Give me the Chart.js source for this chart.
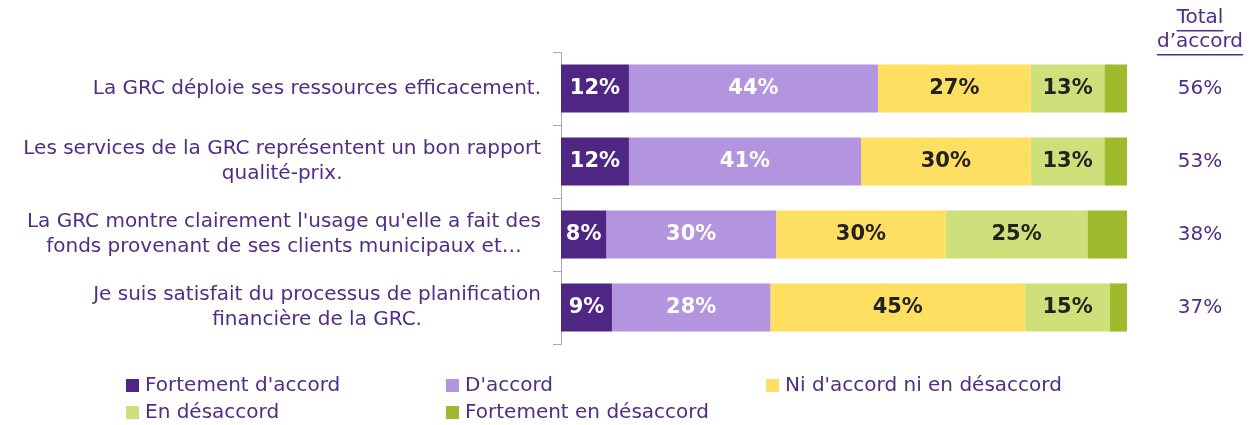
<!DOCTYPE html>
<html>
<head>
<meta charset="utf-8">
<script src="https://cdn.jsdelivr.net/npm/chart.js@4/dist/chart.umd.min.js"></script>
<style>
  html, body { margin: 0; padding: 0; background: #fff; }
  #wrap { width: 1254px; height: 425px; }
</style>
</head>
<body>
<div id="wrap"><canvas id="app-chart"></canvas></div>
<script>
// data
var categories = [
    ['La GRC déploie ses ressources efficacement.'],
    ['Les services de la GRC représentent un bon rapport', 'qualité-prix.'],
    ["La GRC montre clairement l'usage qu'elle a fait des", 'fonds provenant de ses clients municipaux et…'],
    ['Je suis satisfait du processus de planification', 'financière de la GRC.']
];
var seriesNames = ["Fortement d'accord", "D'accord", "Ni d'accord ni en désaccord", 'En désaccord', 'Fortement en désaccord'];
var fortementAccord = [12, 12, 8, 9];
var accord = [44, 41, 30, 28];
var neutre = [27, 30, 30, 45];
var desaccord = [13, 13, 25, 15];
var fortementDesaccord = [4, 4, 7, 3];
var totalAccord = ['56%', '53%', '38%', '37%'];
var totalTitle = ['Total', 'd\u2019accord'];

var colors = ['#4f2683', '#b394de', '#ffdf61', '#cde07a', '#9dbb2c'];
var labelColors = ['#ffffff', '#ffffff', '#222222', '#222222', null];
var purple = '#512d86';
var font = '"DejaVu Sans", Verdana, sans-serif';

//======================================================================================================================
// Custom drawing: category labels, value labels, totals, legend
//======================================================================================================================

var drawExtras = {
    id: 'drawExtras',
    afterDatasetsDraw: function(chart) {
        var ctx = chart.ctx;
        var yScale = chart.scales.y;
        ctx.save();

        // category labels, block right-aligned, lines centred
        ctx.font = '20px ' + font;
        ctx.fillStyle = purple;
        ctx.textBaseline = 'middle';
        ctx.textAlign = 'center';
        categories.forEach(function(lines, i) {
            var y = yScale.getPixelForValue(i);
            var maxW = 0;
            lines.forEach(function(l) { maxW = Math.max(maxW, ctx.measureText(l).width); });
            var cx = 541 - maxW / 2;
            var top = y - (lines.length - 1) * 12.5;
            lines.forEach(function(l, j) { ctx.fillText(l, cx, top + j * 25); });
        });

        // totals column
        totalAccord.forEach(function(t, i) {
            ctx.fillText(t, 1200, yScale.getPixelForValue(i));
        });
        totalTitle.forEach(function(t, j) {
            var y = 18 + j * 24;
            ctx.fillText(t, 1200, y);
            var w = ctx.measureText(t).width;
            ctx.fillRect(1200 - w / 2, y + 12, w, 1.5);
        });

        // value labels inside the bars
        ctx.font = 'bold 21px ' + font;
        chart.data.datasets.forEach(function(ds, di) {
            if (!labelColors[di]) return;
            var meta = chart.getDatasetMeta(di);
            meta.data.forEach(function(bar, i) {
                ctx.fillStyle = labelColors[di];
                ctx.fillText(ds.data[i] + '%', (bar.x + bar.base) / 2, bar.y);
            });
        });

        // legend
        var cols = [126, 446, 766];
        ctx.font = '20px ' + font;
        ctx.textAlign = 'left';
        seriesNames.forEach(function(name, i) {
            var x = cols[i % 3];
            var y = 385 + Math.floor(i / 3) * 27;
            ctx.fillStyle = colors[i];
            ctx.fillRect(x, y - 6, 13, 13);
            ctx.fillStyle = purple;
            ctx.fillText(name, x + 19, y + 1);
        });

        ctx.restore();
    }
};

new Chart(document.getElementById('app-chart'), {
    type: 'bar',
    data: {
        labels: categories,
        datasets: [fortementAccord, accord, neutre, desaccord, fortementDesaccord].map(function(vals, i) {
            return {
                label: seriesNames[i],
                data: vals,
                backgroundColor: colors[i],
                borderWidth: 0,
                barPercentage: 0.66,
                categoryPercentage: 1
            };
        })
    },
    options: {
        indexAxis: 'y',
        responsive: true,
        maintainAspectRatio: false,
        animation: false,
        layout: {
            padding: { left: 551, right: 127, top: 52, bottom: 81 }
        },
        scales: {
            x: {
                stacked: true,
                display: false,
                min: 0,
                max: 100
            },
            y: {
                stacked: true,
                afterFit: function(s) { s.width = 10; },
                ticks: { display: false },
                grid: {
                    offset: true,
                    drawOnChartArea: false,
                    drawTicks: true,
                    tickLength: 8,
                    color: '#a9a4c2'
                },
                border: { display: true, color: '#a9a4c2' }
            }
        },
        plugins: {
            legend: { display: false },
            tooltip: { enabled: false }
        }
    },
    plugins: [drawExtras]
});
</script>
</body>
</html>
